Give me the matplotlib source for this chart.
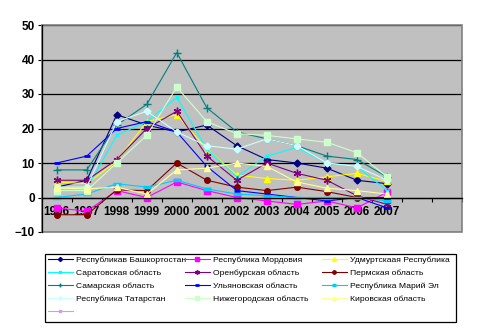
import numpy as np
import matplotlib.pyplot as plt
from matplotlib.patches import Rectangle

plt.rcParams['font.family'] = ['Liberation Sans', 'DejaVu Sans']

years = ['1996', '1997', '1998', '1999', '2000', '2001', '2002',
         '2003', '2004', '2005', '2006', '2007']

regions = ['Республикав Башкортостан', 'Республика Мордовия', 'Удмуртскаая Республика',
           'Саратовская область', 'Оренбурская область', 'Пермская область',
           'Самарская область', 'Ульяновская область', 'Республика Марий Эл',
           'Республика Татарстан', 'Нижегородская область', 'Кировская область', '']

# values, one list per region
bashkortostan = [3, 5, 24, 21, 19, 21, 15, 11, 10, 8.5, 5, 4]
mordovia = [-3, -4, 2, 0, 4.5, 2, 0, -1, -2, -1, -3, 1.5]
udmurtia = [4.5, 4, 10.5, 22, 24, 14, 6.5, 5.5, 5, 6, 7, 4.7]
saratov = [3, 2.5, 18, 22, 29, 14, 6, 12, 14.5, 10, 9, 2]
orenburg = [5, 5, 11, 20, 25, 12, 5, 10, 7, 5, 0.5, -2]
perm = [-5, -5, 2.2, 2, 10, 5, 3, 2, 3, 1.7, 0, 0]
samara = [8, 8, 21, 27, 42, 26, 19, 17, 15, 12, 11, 6]
ulyanovsk = [10, 12, 20, 22, 19, 9, 2, 1, 0, -1, 0, -3]
mari_el = [0, 1, 4, 3, 5, 2.5, 1, 0.5, 0, 0, 0, -1]
tatarstan = [3, 3, 22, 25, 19, 15, 14, 17, 15, 10, 9, 5]
nizhny = [2, 2, 10, 18, 32, 22, 18.5, 18, 17, 16, 13, 6]
kirov = [2.7, 2.5, 3, 1, 8, 8.5, 10, 9, 4.5, 2.7, 2, 1]
empty = [np.nan] * 12

series = [bashkortostan, mordovia, udmurtia, saratov, orenburg, perm, samara,
          ulyanovsk, mari_el, tatarstan, nizhny, kirov, empty]

colors = ['#000080', '#FF00FF', '#FFFF00', '#00FFFF', '#800080', '#800000', '#008080',
          '#0000FF', '#00CCFF', '#CCFFFF', '#CCFFCC', '#FFFF99', '#CC99FF']
# marker, size, edge width
markers = [('D', 3.5, 1), ('s', 4, 1), ('^', 4.5, 1), ('x', 3.5, 1), ((6, 2, 0), 5.5, 1),
           ('o', 4, 1), ('+', 5.5, 1), ('_', 4, 2), ('_', 5.5, 2.5), ('D', 3.5, 1),
           ('s', 4.5, 1), ('^', 4.5, 1), ('s', 3.5, 1)]

W, H = 478, 331
fig = plt.figure(figsize=(W / 100, H / 100), dpi=100)
ax = fig.add_axes([41.7 / W, 1 - 232 / H, 420.3 / W, 207 / H])
ax.set_facecolor('#C0C0C0')
ax.set_xlim(-0.5, 13.5)
ax.set_ylim(-10, 50)

ax.set_yticks(range(-10, 51, 10))
ax.grid(axis='y', color='black', lw=0.9)
ax.set_axisbelow(True)

x = np.arange(len(years))
handles = []
for vals, c, (m, ms, mew) in zip(series, colors, markers):
    h, = ax.plot(x, vals, color=c, lw=0.8, marker=m, markersize=ms,
                 markerfacecolor=c, markeredgecolor=c, markeredgewidth=mew)
    handles.append(h)

# plot area frame
ax.add_patch(Rectangle((0, 0), 1, 1, transform=ax.transAxes, fill=False,
                       ec='#808080', lw=1.2, zorder=1, clip_on=False))
for s in ['top', 'right']:
    ax.spines[s].set_visible(False)
ax.spines['left'].set_color('black')
ax.spines['left'].set_linewidth(0.9)
ax.spines['bottom'].set_position(('data', 0))
ax.spines['bottom'].set_color('black')
ax.spines['bottom'].set_linewidth(0.9)

ax.set_xticks(np.arange(-0.5, 14, 1))
ax.set_xticks(x, labels=years, minor=True, fontweight='bold', fontsize=8.5)
ax.tick_params(axis='x', which='major', length=3, width=0.8, direction='out',
               labelbottom=False)
ax.tick_params(axis='x', which='minor', length=0, pad=6)
ax.tick_params(axis='y', length=3, width=0.8, pad=2, labelsize=8.5)
for lab in ax.get_yticklabels():
    lab.set_fontweight('bold')

# legend: box plus three columns, filled row by row like excel
fig.add_artist(Rectangle((45 / W, 1 - 322 / H), 411 / W, 68 / H, transform=fig.transFigure,
                         fill=False, ec='black', lw=0.9))
col_x = [48, 185, 322]
for k in range(3):
    idx = list(range(k, len(series), 3))
    fig.legend([handles[i] for i in idx], [regions[i] for i in idx],
               loc='upper left', bbox_to_anchor=(col_x[k] / W, 1 - 256 / H),
               fontsize=6.1, frameon=False, handlelength=2.9, handletextpad=0.35,
               labelspacing=0.6, borderpad=0, borderaxespad=0, markerscale=0.6)

fig.savefig('out.png', dpi=100, facecolor='white')
